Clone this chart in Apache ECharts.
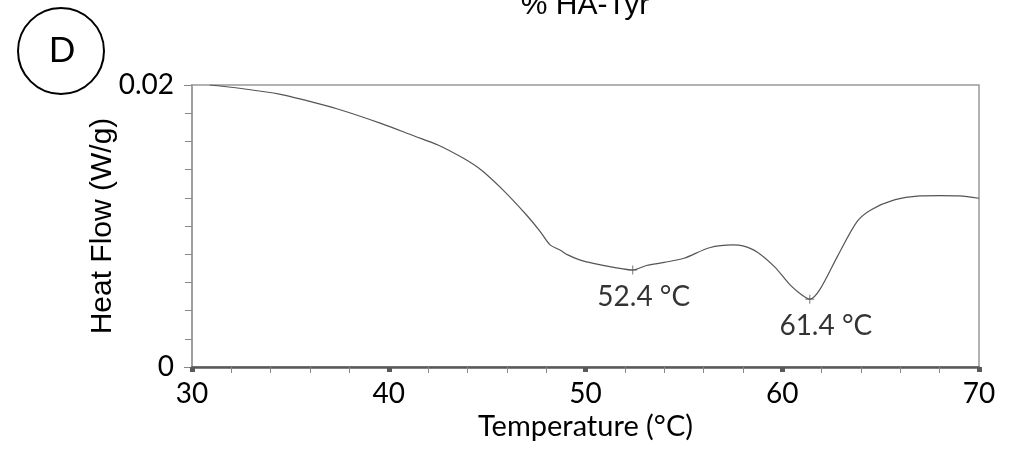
<!DOCTYPE html>
<html>
<head>
<meta charset="utf-8">
<script src="https://cdn.jsdelivr.net/npm/echarts@6/dist/echarts.min.js"></script>
<style>
  html, body { margin: 0; padding: 0; background: #fff; }
  #chart { width: 1012px; height: 453px; }
</style>
</head>
<body>
<div id="chart"></div>
<script>
// DSC curve: temperature (°C) and heat flow (W/g)
var temps = [30.9, 32.5, 34.5, 35.7, 37.4, 39.6, 41.3, 42.5, 43.8, 44.7, 45.8, 47.0, 47.7, 48.2, 48.7, 49.1, 49.7, 50.4,
  51.5, 52.4, 53.1, 54.0, 55.0, 56.3, 57.5, 58.0, 58.7, 59.6, 60.4, 61.0, 61.4, 61.9, 62.8, 63.8, 64.5, 65.7, 67.0, 68.0, 69.0, 70.0];
var heatFlow = [0.0200, 0.01975, 0.01934, 0.01894, 0.0183, 0.01728, 0.01638, 0.01575, 0.0148, 0.01397, 0.01256, 0.01078, 0.0096, 0.00866, 0.0083, 0.00795, 0.00760, 0.00735,
  0.00705, 0.00688, 0.00720, 0.00742, 0.00771, 0.00846, 0.00866, 0.00859, 0.00818, 0.00712, 0.00582, 0.00510, 0.00481, 0.00547, 0.00783, 0.01031, 0.01114, 0.01185, 0.01213, 0.01216, 0.01213, 0.01197];

// marked peaks
var peakTemps = [52.4, 61.4];
var peakFlow = [0.00688, 0.00481];
var peakLabels = ["52.4 °C", "61.4 °C"];

var xTicks = [30, 40, 50, 60, 70];
var yTicks = [0, 0.02];

var chart = echarts.init(document.getElementById("chart"));

var curve = temps.map(function (t, i) { return [t, heatFlow[i]]; });
var labelShift = [[11, 0], [16, 0]];
var peaks = peakTemps.map(function (t, i) {
  return { value: [t, peakFlow[i]], name: peakLabels[i], label: { offset: labelShift[i] } };
});

var labelFont = "Lato, 'Open Sans', sans-serif";
var arialFont = "'Liberation Sans', Arial, sans-serif";
var crossPath = "path://M5,0 L5,10 M0,5 L10,5";

chart.setOption({
  animation: false,
  backgroundColor: "#fff",
  grid: {
    left: 192, right: 33, top: 85, bottom: 86,
    show: true, borderColor: "#999", borderWidth: 1.5, backgroundColor: "transparent"
  },
  xAxis: {
    type: "value",
    min: 30, max: 70, interval: 10,
    name: "Temperature (°C)",
    nameLocation: "middle",
    nameGap: 45,
    nameMoveOverlap: false,
    nameTextStyle: { fontFamily: labelFont, fontSize: 29, color: "#000" },
    axisLine: { show: true, onZero: false, lineStyle: { color: "#595959", width: 2.5 } },
    axisTick: { show: true, inside: false, length: 5, lineStyle: { color: "#595959", width: 5 } },
    minorTick: { show: true, splitNumber: 5, length: 6, lineStyle: { color: "#888", width: 1 } },
    axisLabel: {
      margin: 13, fontFamily: labelFont, fontSize: 28, color: "#000",
      formatter: function (v) { return xTicks.indexOf(v) >= 0 ? String(v) : ""; }
    },
    splitLine: { show: false }
  },
  yAxis: {
    type: "value",
    min: 0, max: 0.02, interval: 0.02,
    name: "Heat Flow (W/g)",
    nameLocation: "middle",
    nameGap: 74,
    nameMoveOverlap: false,
    nameTextStyle: { fontFamily: arialFont, fontSize: 30, color: "#000" },
    axisLine: { show: true, onZero: false, lineStyle: { color: "#a0a0a0", width: 2 } },
    axisTick: { show: true, length: 8, lineStyle: { color: "#888", width: 1 } },
    minorTick: { show: true, splitNumber: 10, length: 7, lineStyle: { color: "#888", width: 1 } },
    axisLabel: {
      margin: 18, fontFamily: labelFont, fontSize: 28, color: "#000",
      formatter: function (v) { return yTicks.indexOf(v) >= 0 ? String(v) : ""; }
    },
    splitLine: { show: false }
  },
  graphic: [
    {
      type: "text",
      x: 585, y: 21,
      style: { text: "% HA-Tyr", font: "30px " + arialFont, fill: "#000", textAlign: "center", textVerticalAlign: "bottom" }
    },
    {
      type: "circle",
      shape: { cx: 61, cy: 51, r: 43 },
      style: { fill: "none", stroke: "#000", lineWidth: 2 }
    },
    {
      type: "text",
      x: 62, y: 51,
      style: { text: "D", font: "35px " + labelFont, fill: "#000", textAlign: "center", textVerticalAlign: "middle" }
    }
  ],
  series: [
    {
      type: "line",
      data: curve,
      smooth: 0.3,
      symbol: "none",
      lineStyle: { color: "#555", width: 1.2 },
      z: 3
    },
    {
      type: "scatter",
      data: peaks,
      symbol: crossPath,
      symbolSize: 9,
      itemStyle: { color: "none", borderColor: "#555", borderWidth: 1 },
      label: {
        show: true,
        position: "bottom",
        distance: 6,
        fontFamily: labelFont,
        fontSize: 28,
        color: "#000",
        formatter: function (p) { return p.name; }
      },
      z: 4
    }
  ]
});
</script>
</body>
</html>
